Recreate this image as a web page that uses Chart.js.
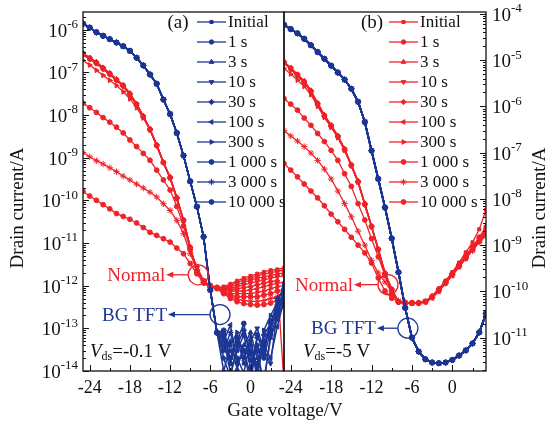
<!DOCTYPE html>
<html>
<head>
<meta charset="utf-8">
<script src="https://cdn.jsdelivr.net/npm/chart.js@4.4.1/dist/chart.umd.min.js"></script>
<style>
    html, body { margin: 0; padding: 0; background: #fff; }
    #wrap { position: relative; width: 553px; height: 428px; }
    #wrap canvas { position: absolute; left: 0; top: 0; }
</style>
</head>
<body>
<div id="wrap">
    <canvas id="chartA" width="553" height="428"></canvas>
    <canvas id="chartB" width="553" height="428"></canvas>
</div>
<script>
/* ── DATA ── */
const stressLabels = ["Initial", "1 s", "3 s", "10 s", "30 s", "100 s", "300 s", "1 000 s", "3 000 s", "10 000 s"];
const gateV = [-25, -24, -23, -22, -21, -20, -19, -18, -17, -16, -15, -14, -13, -12, -11, -10,
    -9, -8, -7, -6, -5, -4, -3, -2, -1, 0, 1, 2, 3, 4, 5];
const xTickLabels = [-24, -18, -12, -6, 0];
const yExpA = [-14, -13, -12, -11, -10, -9, -8, -7, -6];
const yExpB = [-11, -10, -9, -8, -7, -6, -5, -4];

// (a) Vds = -0.1 V   heads: Vg -25..-5, tails: Vg -4..5
const bgA_head = [1.38e-6, 1.12e-6, 8.7e-7, 7.2e-7, 6.0e-7, 5.0e-7, 4.1e-7, 3.2e-7, 2.2e-7, 1.45e-7,
    8.9e-8, 5.4e-8, 2.3e-8, 1.05e-8, 3.8e-9, 1.12e-9, 2.8e-10, 7.1e-11, 1.4e-11, 7.9e-13, 7.9e-14];
const bgA_noise = [
    [4e-14, 2e-14, 6e-14, 1.5e-14, 3e-14, 8e-15, 5e-14, 1.2e-13, 2e-13, 4e-13],
    [6e-14, 9e-15, 3e-14, 7e-14, 1.2e-14, 4e-14, 2e-14, 9e-14, 3e-13, 6e-13],
    [3e-14, 5e-14, 1.1e-14, 4e-14, 8e-14, 2e-14, 6e-15, 6e-14, 1.6e-13, 9e-13],
    [8e-14, 3e-14, 2e-14, 9e-15, 5e-14, 1e-13, 3e-14, 1.5e-14, 2.5e-13, 5e-13],
    [2e-14, 7e-15, 4e-14, 9e-14, 2.5e-14, 1.5e-14, 7e-14, 1.3e-13, 3.5e-13, 7e-13],
    [5e-14, 1.2e-13, 1.5e-14, 3e-14, 5e-15, 6e-14, 4e-14, 2e-14, 1.1e-13, 4.5e-13],
    [1e-14, 4e-14, 8e-14, 2e-14, 4e-14, 1e-14, 9e-14, 2e-13, 4e-13, 1e-12],
    [7e-14, 2e-14, 5e-14, 1.3e-13, 1.8e-14, 3e-14, 5e-15, 7e-14, 2e-13, 3.5e-13],
    [3e-14, 8e-14, 2e-14, 2e-14, 6e-14, 1e-14, 4e-14, 1e-13, 5e-13, 8e-13],
    [9e-14, 1.5e-14, 6e-14, 3e-14, 8e-15, 7e-14, 2.5e-14, 1.5e-13, 3e-13, 6e-13]
];
const normA_thick1 = [2.8e-7, 2.2e-7, 1.74e-7, 1.29e-7, 9.5e-8, 6.9e-8, 5.0e-8, 3.2e-8, 1.82e-8, 9.5e-9,
    4.7e-9, 2.0e-9, 7.9e-10, 3.5e-10, 1.17e-10, 3.5e-11, 8.0e-12, 2.2e-12, 1.2e-12, 9.5e-13, 9.0e-13];
const normA_thick2 = [2.6e-7, 2.05e-7, 1.62e-7, 1.2e-7, 8.9e-8, 6.5e-8, 4.7e-8, 3.0e-8, 1.7e-8, 9.0e-9,
    4.5e-9, 1.9e-9, 7.6e-10, 3.3e-10, 1.1e-10, 3.3e-11, 7.6e-12, 2.1e-12, 1.15e-12, 9.3e-13, 8.8e-13];
const normA_300 = [1.9e-7, 1.48e-7, 1.12e-7, 8.5e-8, 6.5e-8, 4.9e-8, 3.5e-8, 2.4e-8, 1.48e-8, 8.5e-9,
    4.5e-9, 1.95e-9, 7.8e-10, 3.4e-10, 1.12e-10, 3.4e-11, 7.8e-12, 2.2e-12, 1.2e-12, 9.5e-13, 8.8e-13];
const normA_1000 = [1.9e-8, 1.48e-8, 1.15e-8, 8.7e-9, 6.8e-9, 5.2e-9, 3.8e-9, 2.6e-9, 1.82e-9, 1.26e-9,
    8.7e-10, 5.1e-10, 3.0e-10, 1.74e-10, 7.2e-11, 2.5e-11, 7.0e-12, 2.8e-12, 1.3e-12, 1.0e-12, 9.0e-13];
const normA_3000 = [1.32e-9, 1.05e-9, 8.5e-10, 7.1e-10, 5.8e-10, 4.7e-10, 3.7e-10, 3.0e-10, 2.4e-10, 1.95e-10,
    1.55e-10, 1.2e-10, 8.3e-11, 5.8e-11, 3.4e-11, 1.66e-11, 5.6e-12, 2.4e-12, 1.3e-12, 1.0e-12, 9.0e-13];
const normA_10000 = [1.62e-10, 1.26e-10, 1.0e-10, 7.9e-11, 6.3e-11, 4.9e-11, 4.2e-11, 3.6e-11, 2.95e-11, 2.3e-11,
    1.78e-11, 1.51e-11, 1.26e-11, 1.05e-11, 7.6e-12, 5.6e-12, 3.3e-12, 1.9e-12, 1.2e-12, 9.5e-13, 8.5e-13];
const normA_tail = [
    [9.5e-13, 1.1e-12, 1.3e-12, 1.5e-12, 1.7e-12, 1.9e-12, 2.1e-12, 2.3e-12, 2.4e-12, 2.6e-12],
    [9e-13, 1.0e-12, 1.2e-12, 1.35e-12, 1.5e-12, 1.7e-12, 1.9e-12, 2.0e-12, 2.2e-12, 2.3e-12],
    [8.5e-13, 9.5e-13, 1.05e-12, 1.2e-12, 1.35e-12, 1.5e-12, 1.6e-12, 1.75e-12, 1.9e-12, 2.0e-12],
    [8.5e-13, 8.5e-13, 9.5e-13, 1.05e-12, 1.15e-12, 1.25e-12, 1.35e-12, 1.5e-12, 1.6e-12, 1.7e-12],
    [8e-13, 8e-13, 8.5e-13, 9e-13, 9.5e-13, 1.05e-12, 1.15e-12, 1.25e-12, 1.3e-12, 5e-15],
    [8e-13, 7.5e-13, 7.5e-13, 7.5e-13, 8e-13, 8.5e-13, 9.5e-13, 1.05e-12, 1.15e-12, 1.2e-12],
    [7.5e-13, 6.5e-13, 6.5e-13, 6.5e-13, 6.5e-13, 7e-13, 7.5e-13, 8.5e-13, 9.5e-13, 1.0e-12],
    [7e-13, 6e-13, 5.5e-13, 5.5e-13, 5.5e-13, 5.5e-13, 6e-13, 6.5e-13, 7.5e-13, 8e-13],
    [7e-13, 5.5e-13, 4.8e-13, 4.5e-13, 4.3e-13, 4.3e-13, 4.5e-13, 5e-13, 5.5e-13, 6.5e-13],
    [6.5e-13, 5e-13, 4.2e-13, 3.8e-13, 3.6e-13, 3.5e-13, 3.6e-13, 3.9e-13, 4.5e-13, 5e-13]
];

// (b) Vds = -5 V
const bgB = [5.8e-5, 4.7e-5, 3.8e-5, 2.9e-5, 2.1e-5, 1.5e-5, 1.07e-5, 7.6e-6, 5.4e-6, 3.8e-6,
    2.4e-6, 1.26e-6, 4.6e-7, 1.1e-7, 2.7e-8, 6.5e-9, 1.4e-9, 2.6e-10, 4.4e-11, 1.0e-11,
    5.0e-12, 3.4e-12, 2.9e-12, 2.8e-12, 2.9e-12, 3.3e-12, 4.1e-12, 5.3e-12, 7.5e-12, 1.3e-11, 3.3e-11];
const normB_thick1 = [9.3e-6, 6.8e-6, 4.9e-6, 3.5e-6, 2.2e-6, 1.17e-6, 6.5e-7, 3.9e-7, 2.3e-7, 1.2e-7,
    5.5e-8, 2.4e-8, 7.9e-9, 2.6e-9, 8.3e-10, 2.5e-10, 1.12e-10, 5.9e-11, 5.6e-11, 5.6e-11, 5.6e-11];
const normB_thick3 = [8.8e-6, 6.4e-6, 4.6e-6, 3.3e-6, 2.05e-6, 1.1e-6, 6.1e-7, 3.7e-7, 2.2e-7, 1.14e-7,
    5.2e-8, 2.3e-8, 7.5e-9, 2.5e-9, 8.0e-10, 2.4e-10, 1.08e-10, 5.8e-11, 5.5e-11, 5.6e-11, 5.6e-11];
const normB_300 = [6.6e-6, 5.0e-6, 3.7e-6, 2.7e-6, 1.8e-6, 1.0e-6, 5.8e-7, 3.5e-7, 2.1e-7, 1.12e-7,
    5.2e-8, 2.3e-8, 7.6e-9, 2.5e-9, 8.0e-10, 2.4e-10, 1.1e-10, 5.9e-11, 5.6e-11, 5.6e-11, 5.6e-11];
const normB_1000 = [1.48e-6, 1.12e-6, 8.3e-7, 5.6e-7, 3.9e-7, 2.6e-7, 1.74e-7, 1.12e-7, 6.8e-8, 3.5e-8,
    1.86e-8, 7.9e-9, 3.5e-9, 1.38e-9, 5.6e-10, 2.2e-10, 8.9e-11, 6.0e-11, 5.7e-11, 5.6e-11, 5.6e-11];
const normB_3000 = [3.0e-7, 2.3e-7, 1.78e-7, 1.35e-7, 9.8e-8, 6.8e-8, 4.4e-8, 2.7e-8, 1.48e-8, 7.9e-9,
    4.1e-9, 2.0e-9, 1.0e-9, 4.7e-10, 2.5e-10, 1.6e-10, 9.8e-11, 6.3e-11, 5.8e-11, 5.6e-11, 5.6e-11];
const normB_10000 = [5.8e-8, 4.2e-8, 3.0e-8, 2.1e-8, 1.48e-8, 1.05e-8, 7.1e-9, 4.7e-9, 3.2e-9, 2.2e-9,
    1.48e-9, 1.0e-9, 6.8e-10, 4.1e-10, 1.95e-10, 1.02e-10, 7.1e-11, 6.0e-11, 5.7e-11, 5.6e-11, 5.6e-11];
const normB_tail = [
    [6.2e-11, 8.0e-11, 1.15e-10, 1.7e-10, 2.6e-10, 4.2e-10, 7.0e-10, 1.15e-9, 2.2e-9, 5.8e-9],
    [6.0e-11, 7.6e-11, 1.1e-10, 1.6e-10, 2.4e-10, 3.8e-10, 6.0e-10, 9.2e-10, 1.5e-9, 2.5e-9],
    [6.0e-11, 7.8e-11, 1.12e-10, 1.65e-10, 2.5e-10, 3.8e-10, 5.8e-10, 8.8e-10, 1.35e-9, 2.1e-9],
    [5.9e-11, 7.4e-11, 1.05e-10, 1.55e-10, 2.3e-10, 3.5e-10, 5.4e-10, 8.3e-10, 1.3e-9, 2.0e-9],
    [6.1e-11, 7.8e-11, 1.1e-10, 1.6e-10, 2.4e-10, 3.6e-10, 5.6e-10, 8.6e-10, 1.25e-9, 1.8e-9],
    [5.8e-11, 7.2e-11, 1.0e-10, 1.5e-10, 2.2e-10, 3.4e-10, 5.2e-10, 7.9e-10, 1.2e-9, 1.7e-9],
    [6.0e-11, 7.5e-11, 1.08e-10, 1.58e-10, 2.35e-10, 3.6e-10, 5.5e-10, 8.4e-10, 1.3e-9, 1.9e-9],
    [6.1e-11, 7.7e-11, 1.12e-10, 1.62e-10, 2.45e-10, 3.7e-10, 5.7e-10, 9.0e-10, 1.4e-9, 2.2e-9],
    [5.9e-11, 7.3e-11, 1.02e-10, 1.5e-10, 2.25e-10, 3.4e-10, 5.1e-10, 7.6e-10, 1.15e-9, 1.6e-9],
    [6.0e-11, 7.5e-11, 1.05e-10, 1.55e-10, 2.3e-10, 3.5e-10, 5.3e-10, 8.0e-10, 1.2e-9, 1.8e-9]
];

const normA_heads = [normA_thick1, normA_thick2, normA_thick1, normA_thick2, normA_thick1, normA_thick2,
    normA_300, normA_1000, normA_3000, normA_10000];
const normB_heads = [normB_thick1, normB_thick3, normB_thick1, normB_thick3, normB_thick1, normB_thick3,
    normB_300, normB_1000, normB_3000, normB_10000];

/* ── STYLE ── */
const RED = "#ee2229";
const BLUE = "#1c3693";
const SERIF = "'Liberation Serif', 'Times New Roman', serif";
const marks = [
    { style: "rect", rot: 0, r: 2.2 },
    { style: "circle", rot: 0, r: 2.2 },
    { style: "triangle", rot: 0, r: 2.7 },
    { style: "triangle", rot: 180, r: 2.7 },
    { style: "rectRot", rot: 0, r: 2.7 },
    { style: "triangle", rot: -90, r: 2.7 },
    { style: "triangle", rot: 90, r: 2.7 },
    { style: "circle", rot: 0, r: 2.4 },
    { style: "star", rot: 0, r: 3.2 },
    { style: "circle", rot: 0, r: 2.4 },
];

function toPoints(values) {
    return values.map((v, i) => ({ x: gateV[i], y: v }));
}

function makeSet(label, values, color, k, width, order) {
    return {
        label: label,
        data: toPoints(values),
        borderColor: color,
        backgroundColor: color,
        borderWidth: width,
        pointStyle: marks[k].style,
        pointRotation: marks[k].rot,
        pointRadius: marks[k].r,
        pointBorderWidth: 1,
        pointBackgroundColor: color,
        pointBorderColor: color,
        tension: 0,
        order: order,
        tag: color === RED ? "normal" : "bg",
    };
}

const setsA = [];
const setsB = [];
stressLabels.forEach((lab, k) => {
    setsA.push(makeSet(lab, bgA_head.concat(bgA_noise[k]), BLUE, k, 1.5, 0));
    setsA.push(makeSet(lab, normA_heads[k].concat(normA_tail[k]), RED, k, 1.3, 1));
    setsB.push(makeSet(lab, bgB, BLUE, k, 1.7, 0));
    setsB.push(makeSet(lab, normB_heads[k].concat(normB_tail[k]), RED, k, 1.3, 1));
});

/* ── DRAW HELPERS ── */
function drawPow(ctx, exp, x, y, align) {
    ctx.textAlign = "left";
    ctx.textBaseline = "middle";
    ctx.font = "19px " + SERIF;
    const w1 = ctx.measureText("10").width;
    ctx.font = "13px " + SERIF;
    const w2 = ctx.measureText(String(exp)).width;
    const x0 = align === "right" ? x - w1 - w2 : x;
    ctx.font = "19px " + SERIF;
    ctx.fillText("10", x0, y + 2);
    ctx.font = "13px " + SERIF;
    ctx.fillText(String(exp), x0 + w1, y - 5);
}

function drawVds(ctx, x, y, rest) {
    ctx.textAlign = "left";
    ctx.textBaseline = "middle";
    ctx.font = "italic 19px " + SERIF;
    ctx.fillText("V", x, y);
    const w1 = ctx.measureText("V").width;
    ctx.font = "12px " + SERIF;
    ctx.fillText("ds", x + w1, y + 5);
    const w2 = ctx.measureText("ds").width;
    ctx.font = "19px " + SERIF;
    ctx.fillText(rest, x + w1 + w2, y);
}

function drawCallout(ctx, cx, cy, len, text, color) {
    const r = 10;
    ctx.strokeStyle = color;
    ctx.fillStyle = color;
    ctx.lineWidth = 1.3;
    ctx.beginPath();
    ctx.arc(cx, cy, r, 0, Math.PI * 2);
    ctx.stroke();
    const tip = cx - r - len;
    ctx.beginPath();
    ctx.moveTo(cx - r, cy);
    ctx.lineTo(tip + 5, cy);
    ctx.stroke();
    ctx.beginPath();
    ctx.moveTo(tip, cy);
    ctx.lineTo(tip + 7, cy - 3);
    ctx.lineTo(tip + 7, cy + 3);
    ctx.closePath();
    ctx.fill();
    ctx.font = "19px " + SERIF;
    ctx.textAlign = "right";
    ctx.textBaseline = "middle";
    ctx.fillText(text, tip - 1, cy + 1);
}

function drawMark(ctx, ds, x, y) {
    ctx.fillStyle = ds.borderColor;
    ctx.strokeStyle = ds.borderColor;
    ctx.lineWidth = 1;
    if (Chart.helpers && Chart.helpers.drawPoint) {
        Chart.helpers.drawPoint(ctx, {
            pointStyle: ds.pointStyle, rotation: ds.pointRotation,
            radius: ds.pointRadius, borderWidth: 1,
        }, x, y);
    } else {
        ctx.beginPath();
        ctx.arc(x, y, ds.pointRadius, 0, Math.PI * 2);
        ctx.fill();
    }
}

/* ── PANEL DECOR PLUGIN ── */
function panelDecor(p) {
    return {
        id: "decor" + p.key,
        afterDraw(chart) {
            const ctx = chart.ctx;
            const a = chart.chartArea;
            const xs = chart.scales.x;
            const ys = chart.scales.y;
            ctx.save();

            // frame
            ctx.strokeStyle = "#111";
            ctx.lineWidth = 1.3;
            ctx.strokeRect(a.left, a.top, a.right - a.left, a.bottom - a.top);

            // log ticks, pointing inward
            const ax = p.side === "left" ? a.left : a.right;
            const dir = p.side === "left" ? 1 : -1;
            ctx.lineWidth = 1;
            ctx.beginPath();
            for (let e = -15; e <= -3; e++) {
                for (let m = 1; m < 10; m++) {
                    const v = m * Math.pow(10, e);
                    if (v < ys.min || v > ys.max) continue;
                    const py = Math.round(ys.getPixelForValue(v)) + 0.5;
                    const len = m === 1 ? 6 : 3;
                    ctx.moveTo(ax, py);
                    ctx.lineTo(ax + dir * len, py);
                }
            }
            // x ticks
            for (let v = -24; v <= 3; v += 3) {
                const px = Math.round(xs.getPixelForValue(v)) + 0.5;
                const len = v % 6 === 0 ? 6 : 3;
                ctx.moveTo(px, a.bottom);
                ctx.lineTo(px, a.bottom - len);
            }
            ctx.stroke();

            // tick labels
            ctx.fillStyle = "#111";
            ctx.font = "18px " + SERIF;
            ctx.textAlign = "center";
            ctx.textBaseline = "middle";
            xTickLabels.forEach((v) => {
                ctx.fillText(String(v), xs.getPixelForValue(v), a.bottom + 17);
            });
            p.exps.forEach((e) => {
                const py = ys.getPixelForValue(Math.pow(10, e));
                if (p.side === "left") drawPow(ctx, e, a.left - 5, py, "right");
                else drawPow(ctx, e, a.right + 6, py, "left");
            });

            // axis titles
            ctx.font = "19px " + SERIF;
            ctx.textAlign = "center";
            ctx.textBaseline = "middle";
            ctx.save();
            ctx.translate(p.titleX, 208);
            ctx.rotate(-Math.PI / 2);
            ctx.fillText("Drain current/A", 0, 0);
            ctx.restore();
            if (p.side === "left") ctx.fillText("Gate voltage/V", 285, 411);

            // panel tag + legend
            ctx.font = "19px " + SERIF;
            ctx.textAlign = "center";
            ctx.fillText(p.tag, p.tagX, 23);
            const legendSets = chart.data.datasets.filter((d) => d.tag === p.legendTag);
            legendSets.forEach((ds, i) => {
                const y = 22 + i * 20;
                ctx.strokeStyle = ds.borderColor;
                ctx.lineWidth = 1.3;
                ctx.beginPath();
                ctx.moveTo(p.legX, y);
                ctx.lineTo(p.legX + 29, y);
                ctx.stroke();
                drawMark(ctx, ds, p.legX + 14.5, y);
                ctx.fillStyle = "#111";
                ctx.font = "17px " + SERIF;
                ctx.textAlign = "left";
                ctx.textBaseline = "middle";
                ctx.fillText(ds.label, p.legX + 31, y + 1);
            });

            // callouts
            p.callouts.forEach((c) => {
                drawCallout(ctx, xs.getPixelForValue(c.v), ys.getPixelForValue(c.i), c.len, c.text, c.color);
            });

            ctx.fillStyle = "#111";
            drawVds(ctx, p.vdsX, 352, p.vds);
            ctx.restore();
        },
    };
}

/* ── CHARTS ── */
function makeOptions(pad, yMin, yMax) {
    return {
        responsive: false,
        animation: false,
        devicePixelRatio: 1,
        layout: { padding: pad },
        plugins: { legend: { display: false }, tooltip: { enabled: false } },
        scales: {
            x: { type: "linear", min: -25, max: 5, display: false },
            y: { type: "logarithmic", min: yMin, max: yMax, display: false },
        },
    };
}

new Chart(document.getElementById("chartA").getContext("2d"), {
    type: "line",
    data: { datasets: setsA },
    options: makeOptions({ left: 83, right: 269, top: 12, bottom: 57 }, 1e-14, 2.6e-6),
    plugins: [panelDecor({
        key: "A", side: "left", exps: yExpA, titleX: 18, tag: "(a)", tagX: 178,
        legendTag: "bg", legX: 197, vdsX: 90, vds: "=-0.1 V",
        callouts: [
            { v: -7.8, i: 1.8e-12, len: 22, text: "Normal", color: RED },
            { v: -4.55, i: 2.1e-13, len: 42, text: "BG TFT", color: BLUE },
        ],
    })],
});

new Chart(document.getElementById("chartB").getContext("2d"), {
    type: "line",
    data: { datasets: setsB },
    options: makeOptions({ left: 284, right: 67, top: 12, bottom: 57 }, 1.9e-12, 1.1e-4),
    plugins: [panelDecor({
        key: "B", side: "right", exps: yExpB, titleX: 540, tag: "(b)", tagX: 372,
        legendTag: "normal", legX: 389, vdsX: 303, vds: "=-5 V",
        callouts: [
            { v: -9.55, i: 1.4e-10, len: 24, text: "Normal", color: RED },
            { v: -6.6, i: 1.6e-11, len: 21, text: "BG TFT", color: BLUE },
        ],
    })],
});
</script>
</body>
</html>
